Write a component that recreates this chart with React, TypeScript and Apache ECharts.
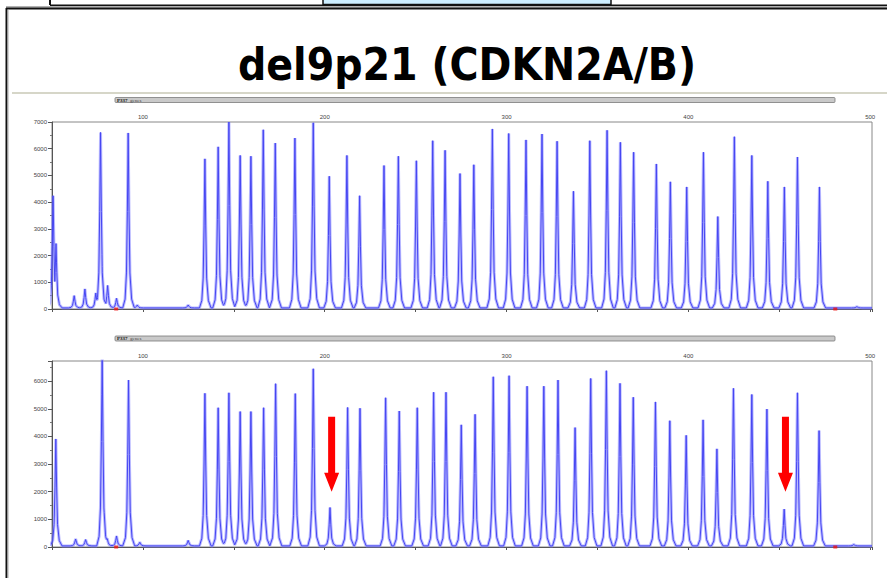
import React, { useEffect, useRef } from "react";
import * as echarts from "echarts";

const titleText = "del9p21 (CDKN2A/B)";
const panelLabel = "P337";
const panelLabelSuffix = "genes";

// fragment sizes (nt) and peak heights (RFU)
const topPeakSizes = [50.6, 52.2, 62.2, 68.1, 74.1, 76.7, 80.6, 85.5, 91.9, 96.9, 124.9, 134.1, 141.4, 147.3, 153.5, 159.4, 166.2, 172.8, 183.6, 193.7, 202.5, 212.2, 219.2, 232.6, 240.5, 250.4, 259.4, 266.2, 274.4, 282.0, 292.2, 301.2, 310.7, 319.5, 327.8, 336.8, 345.8, 355.3, 362.6, 369.9, 382.4, 390.1, 399.1, 408.3, 416.2, 425.3, 434.9, 443.7, 452.8, 460.0, 472.1, 492.7];
const topPeakHeights = [4240, 2450, 500, 750, 600, 6610, 880, 400, 6590, 150, 150, 5620, 6070, 7000, 5750, 5720, 6710, 6210, 6400, 6970, 4970, 5750, 4240, 5370, 5720, 5550, 6300, 5940, 5070, 5400, 6740, 6570, 6330, 6550, 6280, 4410, 6300, 6690, 6240, 5870, 5430, 4760, 4570, 5870, 3460, 6450, 5750, 4780, 4570, 5690, 4570, 90];

const bottomPeakSizes = [52.1, 63.0, 68.5, 77.6, 80.4, 85.5, 92.1, 98.3, 124.9, 134.1, 141.4, 147.3, 153.5, 159.4, 166.4, 173.0, 183.8, 193.7, 202.9, 212.6, 219.4, 233.5, 241.0, 250.9, 259.9, 266.7, 275.1, 282.7, 292.7, 301.4, 311.3, 320.5, 328.3, 337.7, 346.3, 354.9, 362.4, 369.7, 381.9, 389.8, 398.8, 408.1, 415.7, 424.8, 434.9, 443.2, 452.7, 460.0, 471.9, 491.0];
const bottomPeakHeights = [3910, 290, 270, 6900, 300, 400, 6040, 170, 240, 5560, 5040, 5580, 4900, 4900, 5040, 5910, 5550, 6450, 1430, 5050, 5020, 5400, 4920, 5040, 5600, 5600, 4420, 4800, 6160, 6200, 5820, 5820, 6040, 4320, 6100, 6380, 5920, 5420, 5250, 4570, 4040, 4600, 3550, 5740, 5520, 4990, 1370, 5580, 4210, 90];

const deletedProbeSizes = [203.8, 453.4];
const arrowLevels = [3360, 3360];
const sizeMarkerSizes = [85.3, 480.8];
const baselineLevel = 40;
const xMin = 50;
const xMax = 501;
const topYMax = 7000;
const bottomYMax = 6730;

// shape of a single capillary peak (offset in nt, fraction of height)
const peakProfile: [number, number][] = [
  [-3.0, 0], [-1.7, 0.05], [-0.95, 0.2], [-0.45, 0.55], [0, 1],
  [0.45, 0.55], [0.95, 0.2], [1.9, 0.05], [3.4, 0],
];

function profileAt(dx: number): number {
  if (dx <= peakProfile[0][0] || dx >= peakProfile[peakProfile.length - 1][0]) return 0;
  for (let i = 0; i < peakProfile.length - 1; i++) {
    const [x0, f0] = peakProfile[i];
    const [x1, f1] = peakProfile[i + 1];
    if (dx >= x0 && dx <= x1) return f0 + ((dx - x0) / (x1 - x0)) * (f1 - f0);
  }
  return 0;
}

function buildTrace(sizes: number[], heights: number[]): [number, number][] {
  const xs: number[] = [xMin, xMax];
  sizes.forEach((s) => peakProfile.forEach(([dx]) => xs.push(s + dx)));
  xs.sort((a, b) => a - b);
  const out: [number, number][] = [];
  let last = -Infinity;
  xs.forEach((x) => {
    if (x - last < 1e-6) return;
    last = x;
    let y = baselineLevel;
    sizes.forEach((s, i) => {
      const v = baselineLevel + (heights[i] - baselineLevel) * profileAt(x - s);
      if (v > y) y = v;
    });
    out.push([x, y]);
  });
  return out;
}

const arrowPath = "path://M4,0L11,0L11,56L15,56L7.5,75L0,56L4,56Z";

export default function App() {
  const ref = useRef<HTMLDivElement>(null);
  useEffect(() => {
    if (!ref.current) return;
    const chart = echarts.init(ref.current, null, { renderer: "svg" });
    const topTrace = buildTrace(topPeakSizes, topPeakHeights);
    const bottomTrace = buildTrace(bottomPeakSizes, bottomPeakHeights);
    const markers = sizeMarkerSizes.map((s) => [s, 0]);

    const labelFont = "Liberation Sans, Arial, sans-serif";
    const xAxisBase = (gridIndex: number) => ({
      type: "value" as const,
      gridIndex,
      position: "top" as const,
      min: xMin,
      max: xMax,
      interval: 50,
      axisLine: { show: true, lineStyle: { color: "#555", width: 1 } },
      axisTick: { show: true, inside: true, length: 3, lineStyle: { color: "#555" } },
      axisLabel: {
        fontSize: 6,
        color: "#444",
        margin: 2,
        fontFamily: labelFont,
        formatter: (v: number) => (v % 100 === 0 ? String(v) : ""),
      },
      splitLine: { show: false },
    });
    const yAxisBase = (gridIndex: number, max: number) => ({
      type: "value" as const,
      gridIndex,
      min: 0,
      max,
      interval: 1000,
      axisLine: { show: true, lineStyle: { color: "#555", width: 1 } },
      axisTick: { show: true, length: 4, lineStyle: { color: "#555" } },
      minorTick: { show: true, splitNumber: 2, length: 2, lineStyle: { color: "#777" } },
      axisLabel: {
        fontSize: 6,
        color: "#444",
        margin: 5,
        fontFamily: labelFont,
        formatter: (v: number) => (v % 1000 === 0 ? String(v) : ""),
      },
      splitLine: { show: false },
    });

    const traceSeries = (idx: number, data: [number, number][], extra: any = {}) => [
      {
        type: "line",
        xAxisIndex: idx,
        yAxisIndex: idx,
        data,
        showSymbol: false,
        clip: true,
        silent: true,
        lineStyle: { color: "rgba(130,130,255,0.55)", width: 3 },
        z: 2,
      },
      {
        type: "line",
        xAxisIndex: idx,
        yAxisIndex: idx,
        data,
        showSymbol: false,
        clip: true,
        silent: true,
        lineStyle: { color: "#4646f2", width: 1 },
        z: 3,
        ...extra,
      },
      {
        type: "scatter",
        xAxisIndex: idx,
        yAxisIndex: idx,
        data: markers,
        symbol: "rect",
        symbolSize: [4, 3],
        itemStyle: { color: "#ee1111" },
        clip: false,
        z: 4,
      },
    ];

    const headerBar = (y: number, h: number) => [
      {
        type: "rect",
        shape: { x: 115, y, width: 720, height: h, r: 1 },
        style: { fill: "#c9c9c9", stroke: "#7a7a7a", lineWidth: 0.8 },
      },
      {
        type: "text",
        x: 117,
        y: y + h / 2,
        style: {
          text: panelLabel,
          fontSize: 5,
          fontWeight: "bold",
          fill: "#111",
          fontFamily: "Liberation Serif, serif",
          verticalAlign: "middle",
        },
      },
      {
        type: "text",
        x: 130,
        y: y + h / 2,
        style: {
          text: panelLabelSuffix,
          fontSize: 5,
          fill: "#444",
          fontFamily: "Liberation Serif, serif",
          verticalAlign: "middle",
        },
      },
    ];

    chart.setOption({
      animation: false,
      backgroundColor: "#ffffff",
      grid: [
        { left: 52, top: 122, width: 820, height: 187, show: true, borderColor: "#888", borderWidth: 1 },
        { left: 52, top: 361, width: 820, height: 186, show: true, borderColor: "#888", borderWidth: 1 },
      ],
      xAxis: [xAxisBase(0), xAxisBase(1)],
      yAxis: [yAxisBase(0, topYMax), yAxisBase(1, bottomYMax)],
      series: [
        ...traceSeries(0, topTrace),
        ...traceSeries(1, bottomTrace, {
          markPoint: {
            symbol: arrowPath,
            symbolSize: [15, 75],
            symbolKeepAspect: false,
            itemStyle: { color: "#ff0000" },
            label: { show: false },
            silent: true,
            data: deletedProbeSizes.map((s, i) => ({ coord: [s, arrowLevels[i]] })),
          },
        }),
      ],
      graphic: [
        { type: "rect", shape: { x: 323, y: -2, width: 288, height: 6.5 }, style: { fill: "#cdeeff", stroke: "#111", lineWidth: 1.5 } },
        { type: "line", shape: { x1: 50, y1: 0, x2: 50, y2: 5 }, style: { stroke: "#111", lineWidth: 2 } },
        { type: "line", shape: { x1: 50, y1: 5.2, x2: 887, y2: 5.2 }, style: { stroke: "#111", lineWidth: 1.6 } },
        { type: "line", shape: { x1: 6, y1: 6.8, x2: 887, y2: 6.8 }, style: { stroke: "#999", lineWidth: 1.2 } },
        { type: "line", shape: { x1: 6, y1: 8.6, x2: 887, y2: 8.6 }, style: { stroke: "#111", lineWidth: 2 } },
        { type: "line", shape: { x1: 6.5, y1: 8, x2: 6.5, y2: 578 }, style: { stroke: "#111", lineWidth: 2 } },
        { type: "line", shape: { x1: 8, y1: 9.5, x2: 8, y2: 578 }, style: { stroke: "#aaa", lineWidth: 1 } },
        {
          type: "text",
          x: 467,
          y: 64,
          style: {
            text: titleText,
            fontSize: 44,
            fontWeight: "bold",
            fontFamily: "'DejaVu Sans Condensed', 'Liberation Sans', sans-serif",
            fill: "#000",
            align: "center",
            verticalAlign: "middle",
          },
        },
        { type: "line", shape: { x1: 12, y1: 93, x2: 887, y2: 93 }, style: { stroke: "#d6d6c8", lineWidth: 2 } },
        ...headerBar(97.5, 5),
        ...headerBar(336, 5),
      ],
    });
    return () => chart.dispose();
  }, []);

  return (
    <div
      ref={ref}
      style={{ position: "fixed", left: 0, top: 0, width: 887, height: 578, background: "#fff" }}
    />
  );
}
